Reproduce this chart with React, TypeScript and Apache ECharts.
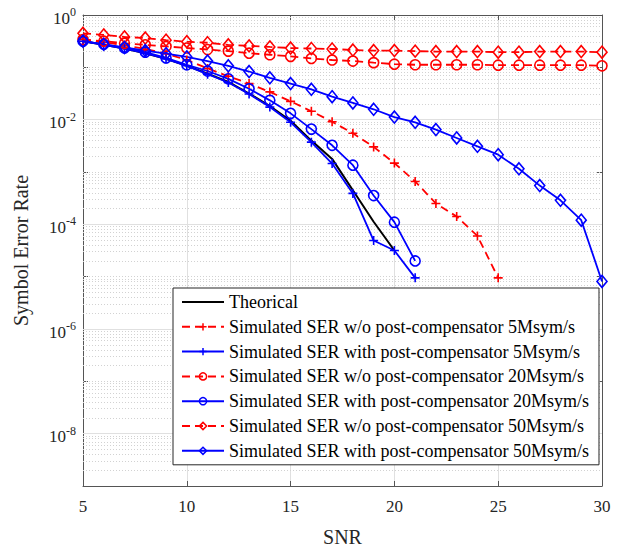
import React, { useEffect, useRef } from "react";
import * as echarts from "echarts";

const snr = [5,6,7,8,9,10,11,12,13,14,15,16,17,18,19,20,21,22,23,24,25,26,27,28,29,30];

const theorical = [0.316,0.269,0.229,0.186,0.145,0.107,0.0759,0.0525,0.0316,0.0182,0.00955,0.00398,0.00178,4.47e-4,1.12e-4,3.16e-5];
const woPost5 = [0.339,0.302,0.263,0.224,0.182,0.138,0.0955,0.0676,0.049,0.0339,0.0224,0.0145,0.00912,0.0055,0.00302,0.00148,6.6e-4,2.5e-4,1.41e-4,6.0e-5,9.5e-6];
const withPost5 = [0.316,0.269,0.229,0.186,0.145,0.107,0.0741,0.0513,0.0309,0.0174,0.00891,0.00372,0.00145,3.9e-4,4.9e-5,3.16e-5,9.5e-6];
const woPost20 = [0.339,0.316,0.288,0.269,0.251,0.234,0.219,0.204,0.186,0.174,0.162,0.148,0.138,0.132,0.123,0.115,0.112,0.112,0.112,0.112,0.110,0.110,0.110,0.110,0.110,0.107];
const withPost20 = [0.316,0.275,0.234,0.195,0.151,0.112,0.0851,0.0603,0.0389,0.0234,0.0132,0.0066,0.00324,0.00135,3.55e-4,1.10e-4,2.0e-5];
const woPost50 = [0.447,0.417,0.380,0.363,0.331,0.309,0.295,0.269,0.257,0.245,0.234,0.229,0.224,0.214,0.209,0.209,0.204,0.2,0.2,0.2,0.195,0.195,0.2,0.2,0.2,0.195];
const withPost50 = [0.316,0.275,0.240,0.209,0.182,0.158,0.132,0.107,0.0832,0.0631,0.049,0.038,0.0275,0.0209,0.0158,0.0112,0.00891,0.00646,0.00447,0.00309,0.00214,0.00115,5.5e-4,2.88e-4,1.2e-4,8.1e-6];

const seriesNames = [
  "Theorical",
  "Simulated SER w/o post-compensator 5Msym/s",
  "Simulated SER with post-compensator 5Msym/s",
  "Simulated SER w/o post-compensator 20Msym/s",
  "Simulated SER with post-compensator 20Msym/s",
  "Simulated SER w/o post-compensator 50Msym/s",
  "Simulated SER with post-compensator 50Msym/s",
];

const xTicks = [5, 10, 15, 20, 25, 30];
const xMin = 5;
const xMax = 30;
const yMinExp = -9;
const yMaxExp = 0;

const FONT = "'Liberation Serif', 'Times New Roman', serif";
const RED = "#ff0000";
const BLUE = "#0000ff";
const PLUS = "path://M5,0L5,10M0,5L10,5";
const seriesColors = ["#000000", RED, BLUE, RED, BLUE, RED, BLUE];

function pairs(vals: number[]) {
  return vals.map((v, i) => [snr[i], v]);
}

export default function App() {
  const ref = useRef<HTMLDivElement>(null);
  useEffect(() => {
    if (!ref.current) return;
    const chart = echarts.init(ref.current, undefined, { renderer: "svg" });

    const majorGrid: number[] = [];
    const minorGrid: number[] = [];
    for (let e = yMinExp; e <= yMaxExp; e++) {
      if (e > yMinExp && e < yMaxExp) {
        if (e % 2 === 0) majorGrid.push(Math.pow(10, e));
        else minorGrid.push(Math.pow(10, e));
      }
      if (e < yMaxExp) {
        for (let k = 2; k <= 9; k++) minorGrid.push(k * Math.pow(10, e));
      }
    }

    const mk = (
      name: string,
      vals: number[],
      color: string,
      symbol: string,
      symbolSize: number | number[],
      dashed: boolean
    ) => ({
      name,
      type: "line",
      data: pairs(vals),
      symbol,
      symbolSize,
      lineStyle: { color, width: 1.8, type: dashed ? [8, 5] : "solid" },
      itemStyle: { color: "transparent", borderColor: color, borderWidth: 1.6 },
      emphasis: { disabled: true },
      z: 3,
    });

    const fmtY = (v: number) => {
      const e = Math.round(Math.log10(v));
      if (e % 2 !== 0) return "";
      return `{b|10}{s|${e}}`;
    };

    const labelRich = {
      b: { fontSize: 17, fontFamily: FONT, color: "#262626", padding: [6, 0, 0, 0] },
      s: { fontSize: 12, fontFamily: FONT, color: "#262626", padding: [0, 0, 6, 0] },
    };

    const gridLines = [
      ...minorGrid.map((v) => ({
        coords: [[xMin, v], [xMax, v]],
        lineStyle: { color: "#d2d2d2", width: 1, type: [1, 2], opacity: 1 },
      })),
      ...majorGrid.map((v) => ({
        coords: [[xMin, v], [xMax, v]],
        lineStyle: { color: "#e0e0e0", width: 1, type: "solid", opacity: 1 },
      })),
    ];

    chart.setOption({
      animation: false,
      backgroundColor: "#ffffff",
      grid: { left: 83, right: 21, top: 15, bottom: 62, containLabel: false },
      legend: {
        orient: "vertical",
        left: 173,
        top: 288,
        backgroundColor: "#ffffff",
        borderColor: "#262626",
        borderWidth: 1,
        borderRadius: 0,
        padding: [5, 10, 5, 8],
        itemWidth: 42,
        itemHeight: 9,
        itemGap: 6.8,
        textStyle: { fontFamily: FONT, fontSize: 18, color: "#000", lineHeight: 18 },
        data: seriesNames.map((n, i) =>
          i === 0
            ? { name: n, itemStyle: { opacity: 0 } }
            : {
                name: n,
                itemStyle: { color: "transparent", borderColor: seriesColors[i], borderWidth: 1.5 },
              }
        ),
        selectedMode: false,
      },
      xAxis: [
        {
          type: "value",
          min: xMin,
          max: xMax,
          interval: 5,
          name: "SNR",
          nameLocation: "middle",
          nameGap: 41,
          nameTextStyle: { fontFamily: FONT, fontSize: 20, color: "#262626" },
          axisLine: { show: true, onZero: false, lineStyle: { color: "#555", width: 1 } },
          axisTick: { show: true, inside: true, length: 5, lineStyle: { color: "#555" } },
          axisLabel: {
            fontFamily: FONT,
            fontSize: 17,
            color: "#262626",
            margin: 12,
            formatter: (v: number) => (xTicks.includes(v) ? String(v) : ""),
          },
          splitLine: { show: true, lineStyle: { color: "#e0e0e0", width: 1 } },
        },
        {
          type: "value",
          position: "top",
          min: xMin,
          max: xMax,
          interval: 5,
          axisLine: { show: true, onZero: false, lineStyle: { color: "#555", width: 1 } },
          axisTick: { show: true, inside: true, length: 5, lineStyle: { color: "#555" } },
          axisLabel: { show: false },
          splitLine: { show: false },
        },
      ],
      yAxis: [
        {
          type: "log",
          logBase: 10,
          min: Math.pow(10, yMinExp),
          max: Math.pow(10, yMaxExp),
          interval: 1,
          name: "Symbol Error Rate",
          nameLocation: "middle",
          nameGap: 52,
          nameTextStyle: { fontFamily: FONT, fontSize: 20, color: "#262626" },
          axisLine: { show: true, onZero: false, lineStyle: { color: "#555", width: 1 } },
          axisTick: { show: true, inside: true, length: 5, lineStyle: { color: "#555" } },
          axisLabel: { formatter: fmtY, rich: labelRich, margin: 7 },
          splitLine: { show: false },
        },
        {
          type: "log",
          logBase: 10,
          position: "right",
          min: Math.pow(10, yMinExp),
          max: Math.pow(10, yMaxExp),
          interval: 1,
          axisLine: { show: true, onZero: false, lineStyle: { color: "#555", width: 1 } },
          axisTick: { show: true, inside: true, length: 5, lineStyle: { color: "#555" } },
          axisLabel: { show: false },
          splitLine: { show: false },
        },
      ],
      series: [
        {
          name: "grid",
          type: "lines",
          coordinateSystem: "cartesian2d",
          xAxisIndex: 0,
          yAxisIndex: 0,
          data: gridLines,
          z: 1,
          silent: true,
          symbol: "none",
          effect: { show: false },
        },
        {
          name: seriesNames[0],
          type: "line",
          data: pairs(theorical),
          symbol: "circle",
          symbolSize: 1,
          showSymbol: false,
          lineStyle: { color: "#000000", width: 2 },
          itemStyle: { color: "#000000" },
          emphasis: { disabled: true },
          z: 3,
        },
        mk(seriesNames[1], woPost5, RED, PLUS, 9, true),
        mk(seriesNames[2], withPost5, BLUE, PLUS, 9, false),
        mk(seriesNames[3], woPost20, RED, "circle", 10, true),
        mk(seriesNames[4], withPost20, BLUE, "circle", 10, false),
        mk(seriesNames[5], woPost50, RED, "diamond", [10, 12], true),
        mk(seriesNames[6], withPost50, BLUE, "diamond", [10, 12], false),
      ],
    });
    return () => chart.dispose();
  }, []);

  return (
    <div
      ref={ref}
      style={{ position: "fixed", left: 0, top: 0, width: 623, height: 552, background: "#fff" }}
    />
  );
}
